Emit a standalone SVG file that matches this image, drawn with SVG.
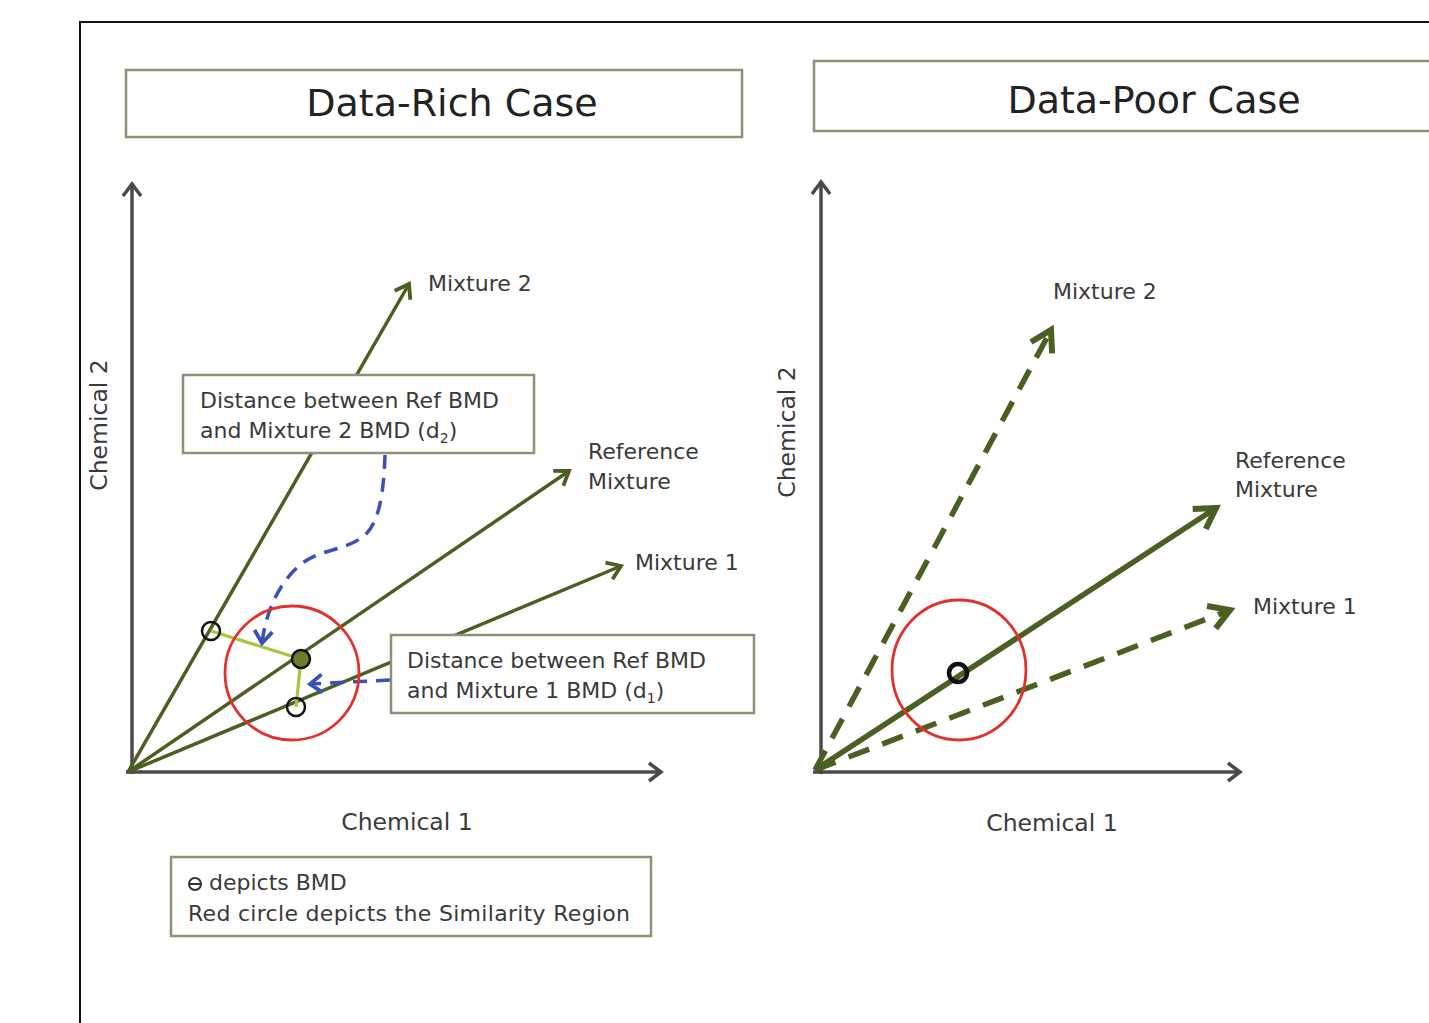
<svg xmlns="http://www.w3.org/2000/svg" width="1429" height="1023" viewBox="0 0 1429 1023">
  <style>
    text { font-family: "DejaVu Sans", "Liberation Sans", sans-serif; fill: #3a3a3a; }
    .title { font-size: 38px; fill: #222; }
    .lbl { font-size: 22px; }
    .axlbl { font-size: 23.5px; }
    .box { fill: #fff; stroke: #8c9178; stroke-width: 2.5; }
    .axis { stroke: #4a4a4a; stroke-width: 3.5; fill: none; }
    .ray { stroke: #4b5f22; stroke-width: 3.5; fill: none; }
    .rayB { stroke: #4b5f22; stroke-width: 5.5; fill: none; }
    .dash { stroke-dasharray: 22 14; }
    .sim { fill: none; stroke: #e2302d; stroke-width: 2.8; }
    .bmd { fill: none; stroke: #111; stroke-width: 2.5; }
    .dist { stroke: #a9c63c; stroke-width: 3.2; fill: none; }
    .blue { stroke: #3a50b8; stroke-width: 3.5; fill: none; stroke-dasharray: 14 9; }
  </style>
  <defs>
    <marker id="axArr" markerUnits="userSpaceOnUse" markerWidth="30" markerHeight="30" refX="0" refY="0" viewBox="-15 -15 30 30" orient="auto" overflow="visible">
      <path d="M-12,-9 L0,0 L-12,9" fill="none" stroke="#4a4a4a" stroke-width="3.5" stroke-linejoin="miter"/>
    </marker>
    <marker id="olArr" markerUnits="userSpaceOnUse" markerWidth="30" markerHeight="30" refX="0" refY="0" viewBox="-15 -15 30 30" orient="auto" overflow="visible">
      <path d="M-13,-9 L0,0 L-13,9" fill="none" stroke="#4b5f22" stroke-width="3.8" stroke-linejoin="miter"/>
    </marker>
    <marker id="olArrB" markerUnits="userSpaceOnUse" markerWidth="40" markerHeight="40" refX="0" refY="0" viewBox="-20 -20 40 40" orient="auto" overflow="visible">
      <path d="M-20,-12 L0,0 L-20,12" fill="none" stroke="#4b5f22" stroke-width="6" stroke-linejoin="miter"/>
    </marker>
    <marker id="blArr" markerUnits="userSpaceOnUse" markerWidth="30" markerHeight="30" refX="0" refY="0" viewBox="-15 -15 30 30" orient="auto" overflow="visible">
      <path d="M-12,-9 L0,0 L-12,9" fill="none" stroke="#3a50b8" stroke-width="3.8" stroke-linejoin="miter"/>
    </marker>
  </defs>

  <rect width="1429" height="1023" fill="#fff"/>
  <!-- outer frame -->
  <path d="M80,1023 V22 H1429" fill="none" stroke="#111" stroke-width="2"/>

  <!-- ===== Data-rich panel ===== -->
  <g id="title-rich">
    <rect class="box" x="126" y="70" width="616" height="67"/>
    <text class="title" x="452" y="116" text-anchor="middle">Data-Rich Case</text>
  </g>

  <g id="connectors-rich">
    <!-- axes -->
    <line class="axis" x1="132" y1="774" x2="132" y2="184" marker-end="url(#axArr)"/>
    <line class="axis" x1="126" y1="772" x2="661" y2="772" marker-end="url(#axArr)"/>
    <!-- mixture rays -->
    <line class="ray" x1="128" y1="772" x2="409" y2="284" marker-end="url(#olArr)"/>
    <line class="ray" x1="128" y1="772" x2="569" y2="471" marker-end="url(#olArr)"/>
    <line class="ray" x1="128" y1="772" x2="621" y2="566" marker-end="url(#olArr)"/>
    <!-- distances between BMDs -->
    <line class="dist" x1="211" y1="631" x2="301" y2="659"/>
    <line class="dist" x1="301" y1="659" x2="296" y2="707"/>
    <!-- callout pointers -->
    <path class="blue" d="M385,455 C384,480 382,520 365,535 C345,552 320,548 300,565 C280,582 266,610 262,643" marker-end="url(#blArr)"/>
    <path class="blue" d="M390,680 L310,684" marker-end="url(#blArr)"/>
  </g>

  <g id="sim-region-rich">
    <circle class="sim" cx="292" cy="673" r="67"/>
  </g>
  <g id="bmd-mix2"><circle class="bmd" cx="211" cy="631" r="9"/></g>
  <g id="bmd-ref"><circle cx="301" cy="659" r="9" fill="#6b7d2c" stroke="#111" stroke-width="2.5"/></g>
  <g id="bmd-mix1"><circle class="bmd" cx="296" cy="707" r="9"/></g>

  <g id="label-mix2-rich"><text class="lbl" x="428" y="291">Mixture 2</text></g>
  <g id="label-ref-rich">
    <text class="lbl" x="588" y="459">Reference</text>
    <text class="lbl" x="588" y="489">Mixture</text>
  </g>
  <g id="label-mix1-rich"><text class="lbl" x="635" y="570">Mixture 1</text></g>

  <g id="callout-d2">
    <rect class="box" x="183" y="375" width="351" height="78"/>
    <text class="lbl" x="200" y="408">Distance between Ref BMD</text>
    <text class="lbl" x="200" y="438">and Mixture 2 BMD (d<tspan font-size="14" dy="5">2</tspan><tspan dy="-5">)</tspan></text>
  </g>
  <g id="callout-d1">
    <rect class="box" x="391" y="635" width="363" height="78"/>
    <text class="lbl" x="407" y="668">Distance between Ref BMD</text>
    <text class="lbl" x="407" y="698">and Mixture 1 BMD (d<tspan font-size="14" dy="5">1</tspan><tspan dy="-5">)</tspan></text>
  </g>

  <g id="axis-labels-rich">
    <text class="axlbl" transform="translate(107,425) rotate(-90)" text-anchor="middle">Chemical 2</text>
    <text class="axlbl" x="407" y="830" text-anchor="middle">Chemical 1</text>
  </g>

  <g id="legend">
    <rect class="box" x="171" y="857" width="480" height="79"/>
    <circle cx="195" cy="884" r="6" fill="none" stroke="#333" stroke-width="2"/>
    <line x1="188" y1="884" x2="202" y2="884" stroke="#333" stroke-width="2"/>
    <text class="lbl" x="209" y="890">depicts BMD</text>
    <text class="lbl" x="188" y="921" textLength="442">Red circle depicts the Similarity Region</text>
  </g>

  <!-- ===== Data-poor panel ===== -->
  <g id="title-poor">
    <rect class="box" x="814" y="61" width="630" height="70"/>
    <text class="title" x="1154" y="113" text-anchor="middle">Data-Poor Case</text>
  </g>

  <g id="connectors-poor">
    <line class="axis" x1="821" y1="774" x2="821" y2="182" marker-end="url(#axArr)"/>
    <line class="axis" x1="813" y1="772" x2="1240" y2="772" marker-end="url(#axArr)"/>
    <line class="rayB dash" x1="815" y1="770" x2="1051" y2="330" marker-end="url(#olArrB)"/>
    <line class="rayB dash" x1="815" y1="770" x2="1230" y2="610" marker-end="url(#olArrB)"/>
    <line class="rayB" x1="815" y1="770" x2="1216" y2="508" marker-end="url(#olArrB)"/>
  </g>

  <g id="sim-region-poor">
    <ellipse class="sim" cx="959" cy="670" rx="67" ry="70"/>
  </g>
  <g id="bmd-poor"><circle cx="958" cy="673" r="9" fill="none" stroke="#111" stroke-width="4.5"/></g>

  <g id="label-mix2-poor"><text class="lbl" x="1053" y="299">Mixture 2</text></g>
  <g id="label-ref-poor">
    <text class="lbl" x="1235" y="468">Reference</text>
    <text class="lbl" x="1235" y="497">Mixture</text>
  </g>
  <g id="label-mix1-poor"><text class="lbl" x="1253" y="614">Mixture 1</text></g>

  <g id="axis-labels-poor">
    <text class="axlbl" transform="translate(795,432) rotate(-90)" text-anchor="middle">Chemical 2</text>
    <text class="axlbl" x="1052" y="831" text-anchor="middle">Chemical 1</text>
  </g>
</svg>
